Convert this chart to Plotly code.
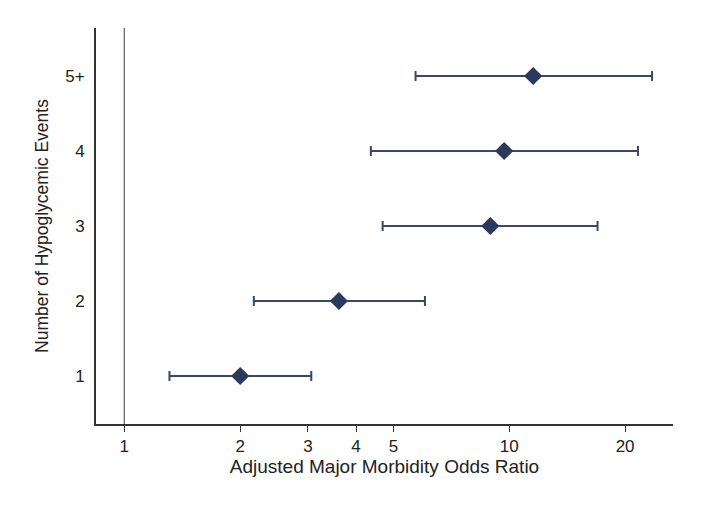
import plotly.graph_objects as go

categories = ["1", "2", "3", "4", "5+"]
positions = [1, 2, 3, 4, 5]
odds_ratio = [2.00, 3.61, 8.93, 9.70, 11.54]
ci_low = [1.31, 2.17, 4.69, 4.37, 5.71]
ci_high = [3.06, 6.04, 16.96, 21.6, 23.5]
x_tick_vals = [1, 2, 3, 4, 5, 10, 20]
x_tick_text = ["1", "2", "3", "4", "5", "10", "20"]

navy = "#2b3a5c"
font_family = "Liberation Sans, Arial, Helvetica, sans-serif"

fig = go.Figure()
fig.add_trace(go.Scatter(
    x=odds_ratio, y=positions, mode="markers",
    marker=dict(symbol="diamond", size=14, color=navy),
    error_x=dict(type="data", symmetric=False,
                 array=[h - p for h, p in zip(ci_high, odds_ratio)],
                 arrayminus=[p - l for p, l in zip(odds_ratio, ci_low)],
                 color="#3a4868", thickness=2, width=5),
    showlegend=False,
))

fig.add_shape(type="line", xref="x", yref="paper", x0=1, x1=1, y0=0, y1=1,
              line=dict(color="#666666", width=1.3), layer="below")

fig.update_layout(
    width=701, height=515,
    margin=dict(l=88, r=36, t=20, b=99),
    paper_bgcolor="white", plot_bgcolor="white",
    font=dict(family=font_family, size=17, color="#222222"),
    xaxis=dict(
        type="log", range=[-0.0736, 1.4255], automargin=False,
        tickvals=x_tick_vals, ticktext=x_tick_text,
        tickfont=dict(size=17),
        ticks="outside", ticklen=6, tickwidth=1.3, tickcolor="#333333",
        showline=True, linecolor="#333333", linewidth=2,
        showgrid=False, zeroline=False,
        title=dict(text="Adjusted Major Morbidity Odds Ratio", font=dict(size=19), standoff=4),
    ),
    yaxis=dict(
        range=[0.36, 5.64], automargin=False,
        tickvals=positions, ticktext=categories,
        tickfont=dict(size=17),
        ticks="outside", ticklen=6, tickcolor="rgba(0,0,0,0)",
        showline=True, linecolor="#333333", linewidth=2,
        showgrid=False, zeroline=False,
        title=dict(text="Number of Hypoglycemic Events", font=dict(size=17.5), standoff=12),
    ),
)

fig.write_html("out.html")
